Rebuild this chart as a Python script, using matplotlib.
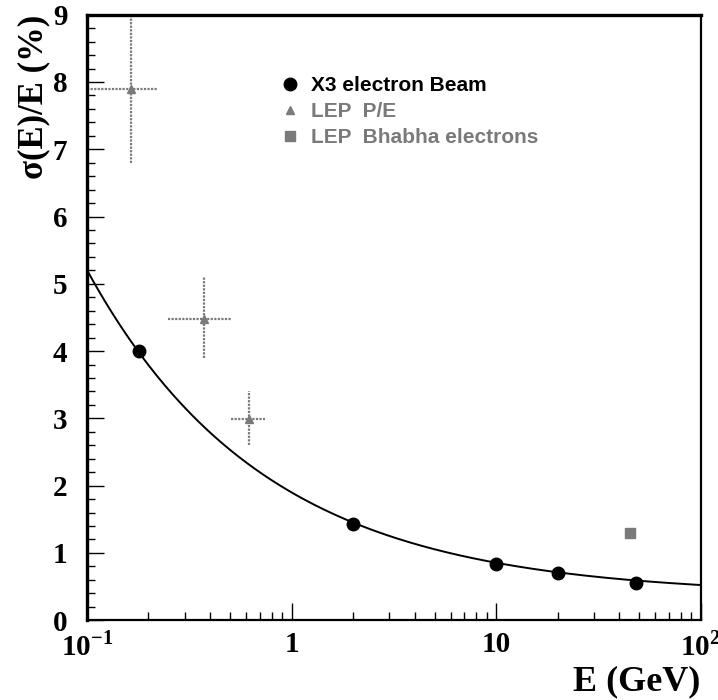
import numpy as np
import matplotlib
matplotlib.use('Agg')
import matplotlib.pyplot as plt
from matplotlib.ticker import FixedLocator, FixedFormatter, LogLocator, MultipleLocator

plt.rcParams['mathtext.fontset'] = 'custom'
plt.rcParams['mathtext.rm'] = 'Liberation Serif:bold'
plt.rcParams['mathtext.bf'] = 'Liberation Serif:bold'

# X3 electron beam points
x3_e = [0.18, 2.0, 10.0, 20.0, 48.0]
x3_res = [4.0, 1.43, 0.84, 0.70, 0.55]

# LEP P/E points with errors
lep_e = [0.165, 0.375, 0.62]
lep_res = [7.9, 4.48, 2.99]
lep_e_lo = [0.10, 0.25, 0.505]
lep_e_hi = [0.22, 0.505, 0.74]
lep_res_lo = [6.8, 3.9, 2.6]
lep_res_hi = [9.3, 5.1, 3.4]

# LEP Bhabha electrons
bha_e = [45.0]
bha_res = [1.3]

# fit sigma/E = a/sqrt(E) + b
fit_a = 1.53
fit_b = 0.37

gray = '#7a7a7a'

fig = plt.figure(figsize=(7.18, 7.0), dpi=100)
ax = fig.add_axes([0.121, 0.114, 0.855, 0.865])

e_fit = np.logspace(-1, 2, 300)
ax.plot(e_fit, fit_a / np.sqrt(e_fit) + fit_b, color='black', lw=1.4)

xerr = [np.array(lep_e) - np.array(lep_e_lo), np.array(lep_e_hi) - np.array(lep_e)]
yerr = [np.array(lep_res) - np.array(lep_res_lo), np.array(lep_res_hi) - np.array(lep_res)]
eb = ax.errorbar(lep_e, lep_res, xerr=xerr, yerr=yerr, fmt='none', ecolor=gray,
                 elinewidth=1.6, capsize=0)
for lc in eb[2]:
    lc.set_linestyle((0, (1, 0.6)))
h_lep, = ax.plot(lep_e, lep_res, '^', color=gray, ms=6)

h_x3, = ax.plot(x3_e, x3_res, 'o', color='black', ms=9)
h_bha, = ax.plot(bha_e, bha_res, 's', color=gray, ms=7)

ax.set_xscale('log')
ax.set_xlim(0.1, 100)
ax.set_ylim(0, 9)

ax.xaxis.set_major_locator(FixedLocator([0.1, 1, 10, 100]))
ax.xaxis.set_major_formatter(FixedFormatter(['10$^{-1}$', '1', '10', '10$^{2}$']))
ax.xaxis.set_minor_locator(LogLocator(base=10, subs=np.arange(2, 10)))
ax.xaxis.set_minor_formatter(FixedFormatter([]))
ax.yaxis.set_major_locator(MultipleLocator(1))
ax.yaxis.set_minor_locator(MultipleLocator(0.2))

ax.tick_params(which='both', direction='in', top=False, right=False)
ax.tick_params(which='major', length=12, width=1)
ax.tick_params(which='minor', length=6, width=1)
ax.tick_params(axis='x', pad=8)
ax.tick_params(axis='y', pad=14)
for lab in ax.get_xticklabels() + ax.get_yticklabels():
    lab.set_fontfamily('Liberation Serif')
    lab.set_fontweight('bold')
    lab.set_fontsize(21)

for sp in ax.spines.values():
    sp.set_linewidth(1.6)
ax.spines['left'].set_linewidth(2.4)
ax.spines['top'].set_linewidth(2.4)

ax.set_xlabel('E (GeV)', fontfamily='Liberation Serif', fontweight='bold', fontsize=26)
ax.xaxis.set_label_coords(1.0, -0.075)
ax.xaxis.label.set_horizontalalignment('right')
ax.set_ylabel('σ(E)/E (%)', fontfamily='Liberation Serif', fontweight='bold', fontsize=25)
ax.yaxis.set_label_coords(-0.06, 1.0)
ax.yaxis.label.set_verticalalignment('bottom')
ax.yaxis.label.set_horizontalalignment('right')

leg = ax.legend([h_x3, h_lep, h_bha],
                ['X3 electron Beam', 'LEP  P/E', 'LEP  Bhabha electrons'],
                loc='upper left', bbox_to_anchor=(0.28, 0.93), frameon=False,
                prop={'family': 'Liberation Sans', 'weight': 'bold', 'size': 15},
                handletextpad=0.4, handlelength=1.2, labelspacing=0.35,
                labelcolor=['black', gray, gray])

fig.savefig('out.png', dpi=100)
